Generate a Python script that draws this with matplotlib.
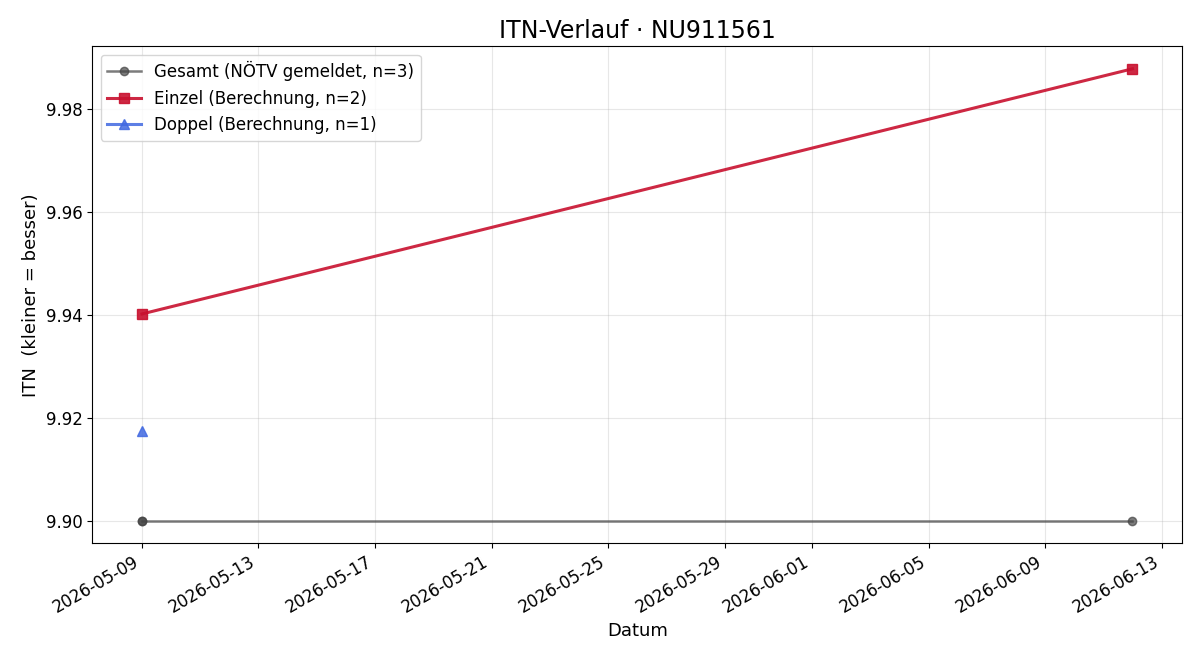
import matplotlib
matplotlib.use('Agg')
import matplotlib.pyplot as plt
import datetime as dt

# ITN values
gesamt_dates = [dt.date(2026, 5, 9), dt.date(2026, 5, 9), dt.date(2026, 6, 12)]
gesamt_itn = [9.90, 9.90, 9.90]

einzel_dates = [dt.date(2026, 5, 9), dt.date(2026, 6, 12)]
einzel_itn = [9.9402, 9.9879]

doppel_dates = [dt.date(2026, 5, 9)]
doppel_itn = [9.9175]

fig, ax = plt.subplots(figsize=(12, 6.6), dpi=100)

ax.plot(gesamt_dates, gesamt_itn, marker='o', color='#444444', alpha=0.7,
        linewidth=1.8, markersize=6, label='Gesamt (NÖTV gemeldet, n=3)')
ax.plot(einzel_dates, einzel_itn, marker='s', color='#C8102E', alpha=0.9,
        linewidth=2.2, markersize=7, label='Einzel (Berechnung, n=2)')
ax.plot(doppel_dates, doppel_itn, marker='^', color='royalblue', alpha=0.85,
        linewidth=2.2, markersize=7, label='Doppel (Berechnung, n=1)')

ax.set_title('ITN-Verlauf · NU911561', fontsize=17)
ax.set_xlabel('Datum', fontsize=13)
ax.set_ylabel('ITN  (kleiner = besser)', fontsize=13)
ax.tick_params(labelsize=12)
ax.grid(True, alpha=0.3)
ax.legend(loc='upper left', fontsize=12)
fig.autofmt_xdate()
fig.subplots_adjust(left=0.077, right=0.985, top=0.930, bottom=0.177)

fig.savefig('out.png')
